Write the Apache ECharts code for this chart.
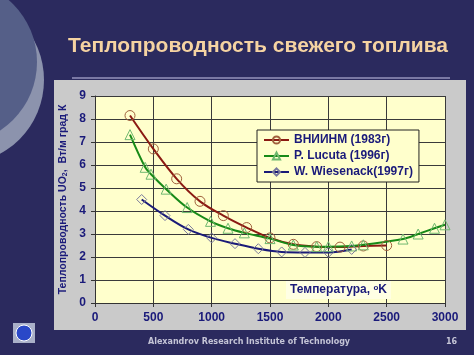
<!DOCTYPE html>
<html>
<head>
<meta charset="utf-8">
<script src="https://cdn.jsdelivr.net/npm/echarts@6/dist/echarts.min.js"></script>
<style>
  html, body { margin: 0; padding: 0; background: #2b2a5e; }
  #container { width: 474px; height: 355px; }
</style>
</head>
<body>
<div id="container"></div>
<script>
const xTicks = [0, 500, 1000, 1500, 2000, 2500, 3000];

const seriesNames = ['ВНИИНМ (1983г)', 'P. Lucuta (1996г)', 'W. Wiesenack(1997г)'];

// ВНИИНМ
const vniinmT = [300, 500, 700, 900, 1100, 1300, 1500, 1700, 1900, 2100, 2300, 2500];
const vniinmK = [8.15, 6.7, 5.4, 4.42, 3.8, 3.28, 2.83, 2.55, 2.45, 2.43, 2.48, 2.5];

// P. Lucuta
const lucutaT = [300, 430, 480, 610, 790, 990, 1140, 1280, 1500, 1700, 1900, 2000, 2200, 2300, 2640, 2770, 2910, 3000];
const lucutaK = [7.32, 5.9, 5.6, 4.95, 4.15, 3.55, 3.25, 3.05, 2.8, 2.52, 2.45, 2.45, 2.48, 2.53, 2.78, 3.0, 3.25, 3.4];

// W. Wiesenack
const wiesT = [400, 600, 800, 1000, 1200, 1400, 1600, 1800, 2000, 2200];
const wiesK = [4.5, 3.8, 3.2, 2.83, 2.58, 2.36, 2.22, 2.2, 2.2, 2.33];

const navy = '#1a1a7a';
const font = '"Liberation Sans", Arial, sans-serif';

const zip = (xs, ys) => xs.map((x, i) => [x, ys[i]]);

const makeSeries = (name, data, symbol, lineColor, markerColor, size) => ({
  name: name,
  type: 'line',
  data: data,
  smooth: 0.35,
  symbol: symbol,
  symbolSize: size,
  showAllSymbol: true,
  lineStyle: { color: lineColor, width: 2 },
  itemStyle: { color: 'rgba(0,0,0,0)', borderColor: markerColor, borderWidth: 1 },
  emphasis: { disabled: true },
  z: 3
});

const myChart = echarts.init(document.getElementById('container'));

const option = {
  backgroundColor: '#2b2a5e',
  animation: false,
  title: {
    text: 'Теплопроводность свежего топлива',
    left: 63,
    top: 31,
    textStyle: { color: '#f5d3a2', fontSize: 21, fontWeight: 'bold', fontFamily: font }
  },
  graphic: [
    // left decoration
    { type: 'circle', z: -3, shape: { cx: -40, cy: 80, r: 84 }, style: { fill: '#8c93ad' } },
    { type: 'circle', z: -2, shape: { cx: -45, cy: 62, r: 82 }, style: { fill: '#555f88' } },
    // separator line and chart panel
    { type: 'rect', z: -2, shape: { x: 72, y: 77, width: 378, height: 2 }, style: { fill: '#7a78a4' } },
    { type: 'rect', z: -1, shape: { x: 54, y: 80, width: 412, height: 250 }, style: { fill: '#cacaca' } },
    // logo
    { type: 'rect', z: -1, shape: { x: 13, y: 323, width: 22, height: 20 }, style: { fill: '#a9b0c8' } },
    { type: 'circle', z: 0, shape: { cx: 24, cy: 333, r: 8 }, style: { fill: '#2a48c8', stroke: '#ffffff', lineWidth: 1 } },
    // x axis name
    {
      type: 'text', z: 100, left: 286, top: 281,
      style: {
        text: 'Температура, {sup|o}K',
        fill: navy,
        font: 'bold 12px ' + font,
        backgroundColor: '#ffffe4',
        padding: [3, 4],
        rich: { sup: { fontSize: 8, fontWeight: 'bold', fill: navy, verticalAlign: 'top', fontFamily: font } }
      }
    },
    // footer
    {
      type: 'text', left: 148, top: 338,
      style: { text: 'Alexandrov Research Institute of Technology', fill: '#c4c4d6', font: 'bold 8px "DejaVu Sans", Verdana, sans-serif' }
    },
    {
      type: 'text', left: 446, top: 338,
      style: { text: '16', fill: '#c4c4d6', font: 'bold 8px "DejaVu Sans", Verdana, sans-serif' }
    }
  ],
  legend: {
    orient: 'vertical',
    left: 257,
    top: 130,
    data: seriesNames,
    backgroundColor: '#ffffcc',
    borderColor: '#222222',
    borderWidth: 1,
    padding: [4, 6, 4, 6],
    itemGap: 4,
    itemWidth: 25,
    itemHeight: 9,
    textStyle: { color: navy, fontSize: 12, fontWeight: 'bold', fontFamily: font }
  },
  grid: {
    left: 95,
    right: 29,
    top: 96,
    bottom: 52,
    show: true,
    backgroundColor: '#ffffcc',
    borderWidth: 0
  },
  xAxis: {
    type: 'value',
    min: xTicks[0],
    max: xTicks[xTicks.length - 1],
    interval: 500,
    axisLine: { show: true, lineStyle: { color: '#333333' } },
    axisTick: { show: true, length: 4, lineStyle: { color: '#333333' } },
    axisLabel: { color: navy, fontSize: 12, fontWeight: 'bold', fontFamily: font, margin: 9, formatter: v => String(v) },
    splitLine: { show: true, lineStyle: { color: '#3a3a3a', width: 1 } }
  },
  yAxis: {
    type: 'value',
    min: 0,
    max: 9,
    interval: 1,
    name: 'Теплопроводность UO{sub|2},  Вт/м град К',
    nameLocation: 'middle',
    nameGap: 23,
    nameTextStyle: {
      color: navy, fontSize: 10.5, fontWeight: 'bold', fontFamily: font,
      rich: { sub: { fontSize: 7, fontWeight: 'bold', color: navy, verticalAlign: 'bottom', fontFamily: font } }
    },
    axisLine: { show: true, lineStyle: { color: '#333333' } },
    axisTick: { show: true, length: 4, lineStyle: { color: '#333333' } },
    axisLabel: { color: navy, fontSize: 12, fontWeight: 'bold', fontFamily: font, margin: 9 },
    splitLine: { show: true, lineStyle: { color: '#3a3a3a', width: 1 } }
  },
  series: [
    makeSeries(seriesNames[0], zip(vniinmT, vniinmK), 'circle', '#8b1a12', '#a0603c', 10),
    makeSeries(seriesNames[1], zip(lucutaT, lucutaK), 'triangle', '#178a17', '#6fb86f', 10),
    makeSeries(seriesNames[2], zip(wiesT, wiesK), 'diamond', '#1a1a78', '#7a7a9c', 10)
  ]
};

myChart.setOption(option);
</script>
</body>
</html>
